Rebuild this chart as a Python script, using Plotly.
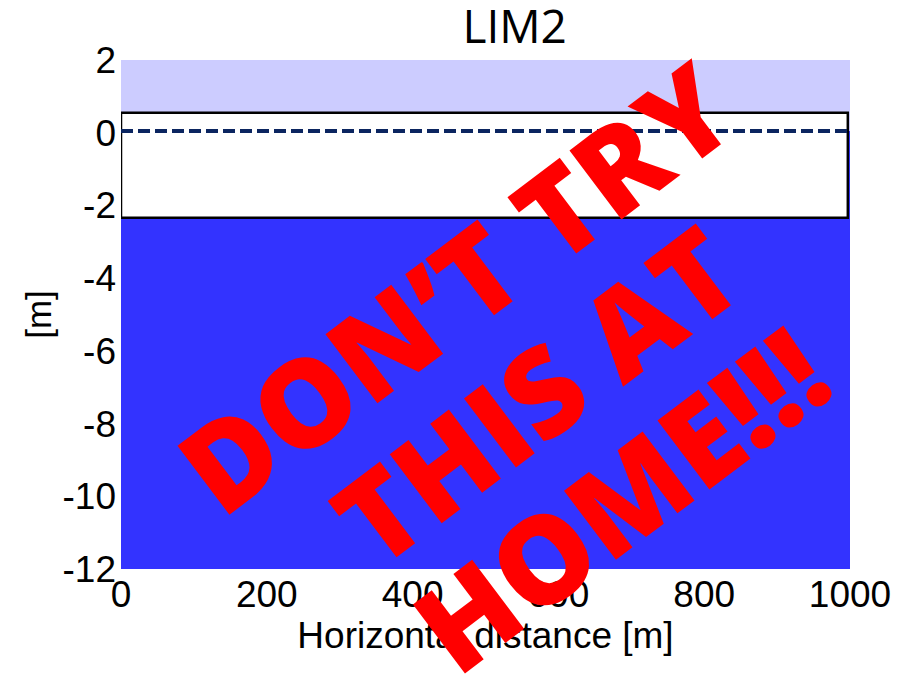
import plotly.graph_objects as go

# ---- data ----
x_extent = [0, 1000]
y_range = [-12, 2]
water_level = 0.05
box_x = [0, 997]
box_y = [-2.34, 0.55]
x_ticks = [0, 200, 400, 600, 800, 1000]
y_ticks = [-12, -10, -8, -6, -4, -2, 0, 2]

title_text = "LIM2"
x_label = "Horizontal distance [m]"
y_label = "[m]"
watermark_lines = ["DON’T TRY", "THIS AT", "HOME!!!"]

LIGHT = "#CCCCFF"
DARK = "#3333FF"
NAVY = "#0B2560"

fig = go.Figure()

# upper region (water level to top)
fig.add_trace(go.Scatter(
    x=[x_extent[0], x_extent[1], x_extent[1], x_extent[0], x_extent[0]],
    y=[water_level, water_level, y_range[1], y_range[1], water_level],
    fill="toself", fillcolor=LIGHT, line=dict(width=0), mode="lines",
    hoverinfo="skip", showlegend=False))

# lower region (bottom to water level)
fig.add_trace(go.Scatter(
    x=[x_extent[0], x_extent[1], x_extent[1], x_extent[0], x_extent[0]],
    y=[y_range[0], y_range[0], water_level, water_level, y_range[0]],
    fill="toself", fillcolor=DARK, line=dict(width=0), mode="lines",
    hoverinfo="skip", showlegend=False))

# white box
fig.add_trace(go.Scatter(
    x=[box_x[0], box_x[1], box_x[1], box_x[0], box_x[0]],
    y=[box_y[0], box_y[0], box_y[1], box_y[1], box_y[0]],
    fill="toself", fillcolor="white", line=dict(color="black", width=2.5),
    mode="lines", hoverinfo="skip", showlegend=False))

# water level dashed line
fig.add_trace(go.Scatter(
    x=x_extent, y=[water_level, water_level], mode="lines",
    line=dict(color=NAVY, width=4, dash="12px,5px"),
    hoverinfo="skip", showlegend=False))

font_main = "Liberation Sans, Arial, sans-serif"

fig.update_layout(
    width=908, height=680,
    margin=dict(l=113, r=66, t=52, b=119),
    paper_bgcolor="white", plot_bgcolor="white",
    title=dict(text=title_text, x=0.558, xanchor="center", y=1 - 19 / 680, yanchor="middle",
               font=dict(family="Open Sans, Noto Sans, sans-serif", size=46, color="black")),
    xaxis=dict(range=x_extent, tickvals=x_ticks, ticktext=[str(v) for v in x_ticks],
               showgrid=False, zeroline=False, showline=False, ticks="",
               tickfont=dict(family=font_main, size=37, color="black"),
               title=dict(text=x_label, font=dict(family=font_main, size=37, color="black"), standoff=0),
               ticklabelstandoff=0),
    yaxis=dict(range=y_range, tickvals=y_ticks, ticktext=[str(v) for v in y_ticks],
               showgrid=False, zeroline=False, showline=False, ticks="",
               tickfont=dict(family=font_main, size=37, color="black"),
               title=dict(text=y_label, font=dict(family=font_main, size=35, color="black"), standoff=0),
               ticklabelstandoff=4),
)

# watermark, one annotation per line (paper coords of each line centre)
wm_pos = [(0.458, 0.556), (0.568, 0.344), (0.684, 0.140)]
for txt, (px, py) in zip(watermark_lines, wm_pos):
    fig.add_annotation(
        text=txt, xref="paper", yref="paper", x=px, y=py,
        xanchor="center", yanchor="middle", showarrow=False, textangle=-37,
        font=dict(family="Open Sans, Noto Sans, sans-serif", size=121, color="#FF0000", weight=800))

fig.write_html("out.html")
